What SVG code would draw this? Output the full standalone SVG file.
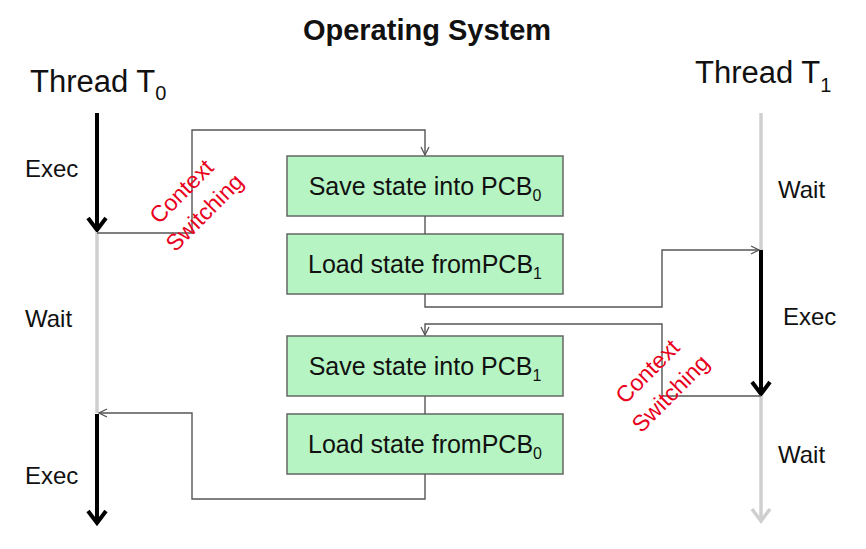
<svg xmlns="http://www.w3.org/2000/svg" width="866" height="549" viewBox="0 0 866 549">
<defs>
<style>
.title{font-family:"Liberation Sans",Arial,sans-serif;font-weight:bold;font-size:29px;fill:#111}
.thr{font-family:"Liberation Sans",Arial,sans-serif;font-size:31px;fill:#111}
.sub{font-size:20px}
.lbl{font-family:"Liberation Sans",Arial,sans-serif;font-size:24px;fill:#111}
.box rect{fill:#b6f5c3;stroke:#666;stroke-width:1.5}
.box text{font-family:"Liberation Sans",Arial,sans-serif;font-size:25px;fill:#111;text-anchor:middle}
.bsub{font-size:16px}
.cs{font-family:"Liberation Sans",Arial,sans-serif;font-size:23px;fill:#e8001c;text-anchor:middle}
.conn{fill:none;stroke:#555;stroke-width:1.4}
.blk{fill:none;stroke:#000;stroke-width:4}
.gry{fill:none;stroke:#cfcfcf;stroke-width:3.5}
</style>
<marker id="ah" markerWidth="10" markerHeight="10" refX="9" refY="5" orient="auto" markerUnits="userSpaceOnUse">
<path d="M1,1 L9,5 L1,9" fill="none" stroke="#555" stroke-width="1.3"/>
</marker>
</defs>

<text class="title" x="427" y="40" text-anchor="middle">Operating System</text>

<g id="thread0">
<text class="thr" x="30" y="92">Thread T<tspan class="sub" dy="8">0</tspan></text>
<line class="blk" x1="97" y1="113" x2="97" y2="230"/>
<polyline class="blk" points="88,218 97,230 106,218"/>
<line class="gry" x1="97" y1="232" x2="97" y2="413"/>
<line class="blk" x1="97" y1="414" x2="97" y2="523"/>
<polyline class="blk" points="88,511 97,523 106,511"/>
<text class="lbl" x="25" y="177">Exec</text>
<text class="lbl" x="25" y="327">Wait</text>
<text class="lbl" x="25" y="484">Exec</text>
</g>

<g id="thread1">
<text class="thr" x="695" y="83">Thread T<tspan class="sub" dy="9">1</tspan></text>
<line class="gry" x1="761" y1="113" x2="761" y2="250"/>
<line class="blk" x1="761" y1="250" x2="761" y2="394"/>
<polyline class="blk" points="752,382 761,394 770,382"/>
<line class="gry" x1="761" y1="396" x2="761" y2="521"/>
<polyline class="gry" points="752,509 761,521 770,509"/>
<text class="lbl" x="778" y="198">Wait</text>
<text class="lbl" x="783" y="325">Exec</text>
<text class="lbl" x="778" y="463">Wait</text>
</g>

<g id="save0" class="box">
<rect x="287" y="156" width="276" height="60"/>
<text x="425" y="195">Save state into PCB<tspan class="bsub" dy="6">0</tspan></text>
</g>
<g id="load1" class="box">
<rect x="287" y="234" width="276" height="60"/>
<text x="425" y="273">Load state fromPCB<tspan class="bsub" dy="6">1</tspan></text>
</g>
<g id="save1" class="box">
<rect x="287" y="336" width="276" height="60"/>
<text x="425" y="375">Save state into PCB<tspan class="bsub" dy="6">1</tspan></text>
</g>
<g id="load0" class="box">
<rect x="287" y="414" width="276" height="60"/>
<text x="425" y="453">Load state fromPCB<tspan class="bsub" dy="6">0</tspan></text>
</g>

<g id="connectors">
<path class="conn" d="M97,233 H192 V130 H425 V155" marker-end="url(#ah)"/>
<path class="conn" d="M425,216 V234"/>
<path class="conn" d="M425,294 V307 H662 V250 H759" marker-end="url(#ah)"/>
<path class="conn" d="M761,396 H662 V324 H425 V335" marker-end="url(#ah)"/>
<path class="conn" d="M425,396 V414"/>
<path class="conn" d="M425,474 V499 H192 V413 H99" marker-end="url(#ah)"/>
</g>

<g id="cs-left">
<text class="cs" transform="translate(187,197) rotate(-45)">Context</text>
<text class="cs" transform="translate(210,218) rotate(-45)">Switching</text>
</g>
<g id="cs-right">
<text class="cs" transform="translate(653,377) rotate(-45)">Context</text>
<text class="cs" transform="translate(676,399) rotate(-45)">Switching</text>
</g>
</svg>
